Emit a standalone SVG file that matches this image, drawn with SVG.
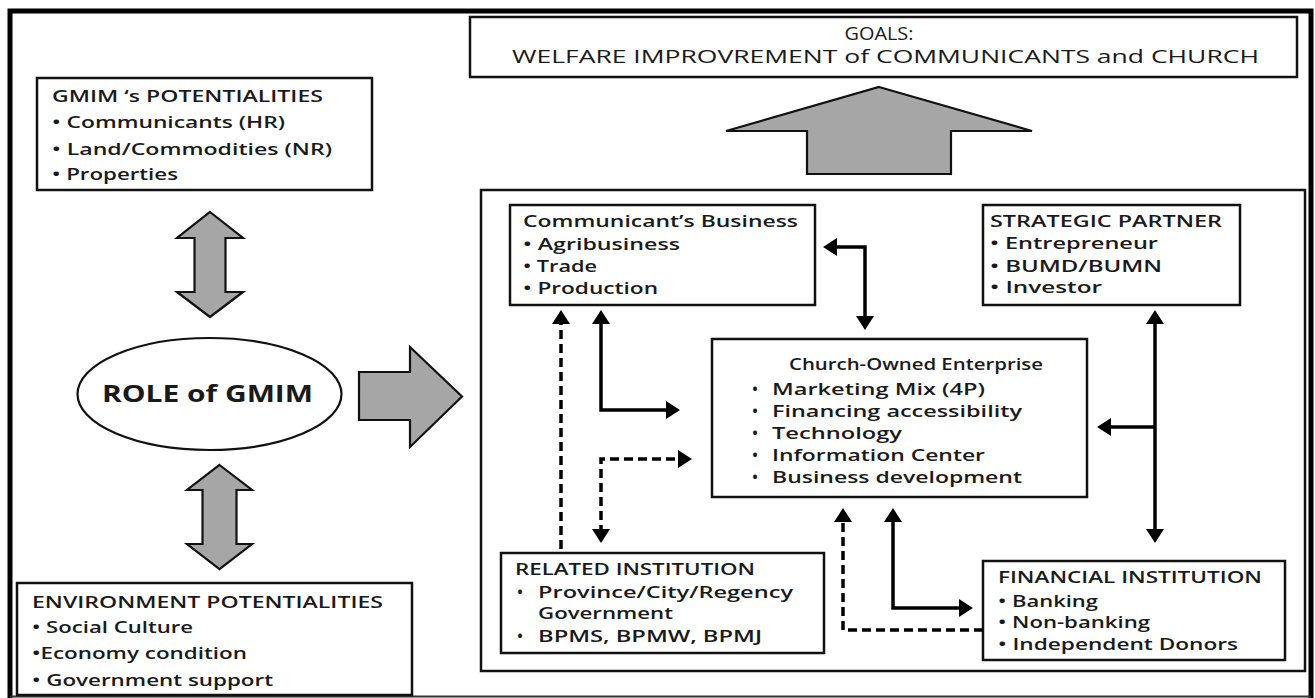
<svg xmlns="http://www.w3.org/2000/svg" width="1315" height="698" viewBox="0 0 1315 698">
<style>
.box{fill:#fff;stroke:#111;stroke-width:2.5}
.big{fill:#a6a6a6;stroke:#111;stroke-width:2.2;stroke-linejoin:miter}
.t{font-family:"Open Sans","Liberation Sans",sans-serif;fill:#1a1a1a;font-weight:600}
.l{font-size:17px}
.s{font-size:16px}
.g{font-size:17.5px;font-weight:500}
.r{font-size:23px;font-weight:700}
.c{fill:none;stroke:#000;stroke-width:3.5}
.d{stroke-dasharray:9 5}
</style>
<defs>
<marker id="ah" markerUnits="userSpaceOnUse" markerWidth="14" markerHeight="18" refX="11" refY="9" orient="auto-start-reverse" viewBox="0 0 14 18"><path d="M0,0 L14,9 L0,18 z" fill="#000"/></marker>
</defs>
<rect width="1315" height="698" fill="#fff"/>
<g id="frame">
<path d="M10,698 V11 H1311 V698" fill="none" stroke="#000" stroke-width="5"/>
<line x1="10" y1="696.5" x2="1311" y2="696.5" stroke="#333" stroke-width="2"/>
</g>
<g id="goals">
<rect class="box" x="470" y="17" width="827" height="60"/>
<text class="t g" x="844.5" y="40" textLength="69" lengthAdjust="spacingAndGlyphs">GOALS:</text>
<text class="t g" x="512" y="63" textLength="747" lengthAdjust="spacingAndGlyphs">WELFARE IMPROVREMENT of COMMUNICANTS and CHURCH</text>
</g>
<g id="up-arrow"><polygon class="big" points="879,87 1032,131 951,131 951,174 807,174 807,131 726,131"/></g>
<g id="gmim-potentialities">
<rect class="box" x="37" y="78" width="335" height="112"/>
<text class="t l" x="52" y="102" textLength="271" lengthAdjust="spacingAndGlyphs">GMIM ‘s POTENTIALITIES</text>
<text class="t l" x="52" y="128" textLength="233" lengthAdjust="spacingAndGlyphs">• Communicants (HR)</text>
<text class="t l" x="52" y="155" textLength="280" lengthAdjust="spacingAndGlyphs">• Land/Commodities (NR)</text>
<text class="t l" x="52" y="180" textLength="126" lengthAdjust="spacingAndGlyphs">• Properties</text>
</g>
<g id="top-double-arrow"><polygon class="big" points="210,212 243,238 225.5,238 225.5,292 243,292 210,317 177,292 194.5,292 194.5,238 177,238"/></g>
<g id="role">
<ellipse cx="209.5" cy="394" rx="132" ry="56" fill="#fff" stroke="#111" stroke-width="2.2"/>
<text class="t r" x="102" y="402" textLength="211" lengthAdjust="spacingAndGlyphs">ROLE of GMIM</text>
</g>
<g id="right-arrow"><polygon class="big" points="359,372 410,372 410,347 462,396.5 410,447 410,420 359,420"/></g>
<g id="bottom-double-arrow"><polygon class="big" points="219.5,465 252,490 236.5,490 236.5,544 252,544 219.5,569 187,544 202.5,544 202.5,490 187,490"/></g>
<g id="environment">
<rect class="box" x="17" y="583" width="395" height="112"/>
<text class="t l" x="32" y="608" textLength="351" lengthAdjust="spacingAndGlyphs">ENVIRONMENT POTENTIALITIES</text>
<text class="t l" x="32" y="633" textLength="161" lengthAdjust="spacingAndGlyphs">• Social Culture</text>
<text class="t l" x="32" y="659" textLength="215" lengthAdjust="spacingAndGlyphs">•Economy condition</text>
<text class="t l" x="32" y="686" textLength="241" lengthAdjust="spacingAndGlyphs">• Government support</text>
</g>
<g id="system"><rect class="box" x="481" y="190" width="824" height="481"/></g>
<g id="communicants-business">
<rect class="box" x="510" y="205" width="305" height="100"/>
<text class="t s" x="523" y="227" textLength="275" lengthAdjust="spacingAndGlyphs">Communicant’s Business</text>
<text class="t s" x="523" y="250" textLength="157" lengthAdjust="spacingAndGlyphs">• Agribusiness</text>
<text class="t s" x="523" y="272" textLength="74" lengthAdjust="spacingAndGlyphs">• Trade</text>
<text class="t s" x="523" y="294" textLength="135" lengthAdjust="spacingAndGlyphs">• Production</text>
</g>
<g id="strategic-partner">
<rect class="box" x="983" y="205" width="257" height="100"/>
<text class="t s" x="990" y="227" textLength="232" lengthAdjust="spacingAndGlyphs">STRATEGIC PARTNER</text>
<text class="t s" x="990" y="249" textLength="168" lengthAdjust="spacingAndGlyphs">• Entrepreneur</text>
<text class="t s" x="990" y="272" textLength="172" lengthAdjust="spacingAndGlyphs">• BUMD/BUMN</text>
<text class="t s" x="990" y="293" textLength="112" lengthAdjust="spacingAndGlyphs">• Investor</text>
</g>
<g id="church-owned-enterprise">
<rect class="box" x="712" y="339" width="375" height="158"/>
<text class="t s" x="789" y="370" textLength="254" lengthAdjust="spacingAndGlyphs">Church-Owned Enterprise</text>
<text class="t s" x="752" y="395">•</text>
<text class="t s" x="752" y="417">•</text>
<text class="t s" x="752" y="439">•</text>
<text class="t s" x="752" y="461">•</text>
<text class="t s" x="752" y="483">•</text>
<text class="t s" x="772" y="395" textLength="213" lengthAdjust="spacingAndGlyphs">Marketing Mix (4P)</text>
<text class="t s" x="772" y="417" textLength="250" lengthAdjust="spacingAndGlyphs">Financing accessibility</text>
<text class="t s" x="772" y="439" textLength="130" lengthAdjust="spacingAndGlyphs">Technology</text>
<text class="t s" x="772" y="461" textLength="213" lengthAdjust="spacingAndGlyphs">Information Center</text>
<text class="t s" x="772" y="483" textLength="250" lengthAdjust="spacingAndGlyphs">Business development</text>
</g>
<g id="related-institution">
<rect class="box" x="501" y="553" width="323" height="100"/>
<text class="t s" x="515" y="575" textLength="240" lengthAdjust="spacingAndGlyphs">RELATED INSTITUTION</text>
<text class="t s" x="517" y="598">•</text>
<text class="t s" x="517" y="642">•</text>
<text class="t s" x="538" y="598" textLength="255" lengthAdjust="spacingAndGlyphs">Province/City/Regency</text>
<text class="t s" x="538" y="619" textLength="135" lengthAdjust="spacingAndGlyphs">Government</text>
<text class="t s" x="538" y="642" textLength="224" lengthAdjust="spacingAndGlyphs">BPMS, BPMW, BPMJ</text>
</g>
<g id="financial-institution">
<rect class="box" x="983" y="561" width="302" height="99"/>
<text class="t s" x="998" y="583" textLength="264" lengthAdjust="spacingAndGlyphs">FINANCIAL INSTITUTION</text>
<text class="t s" x="998" y="607" textLength="100" lengthAdjust="spacingAndGlyphs">• Banking</text>
<text class="t s" x="998" y="628" textLength="152" lengthAdjust="spacingAndGlyphs">• Non-banking</text>
<text class="t s" x="998" y="650" textLength="240" lengthAdjust="spacingAndGlyphs">• Independent Donors</text>
</g>
<g id="connectors">
<path class="c" d="M826,247 H865 V327" marker-start="url(#ah)" marker-end="url(#ah)"/>
<path class="c" d="M601,313 V410 H677" marker-start="url(#ah)" marker-end="url(#ah)"/>
<path class="c d" d="M561,549 V313" marker-end="url(#ah)"/>
<path class="c d" d="M689,459 H601 V540" marker-start="url(#ah)" marker-end="url(#ah)"/>
<path class="c" d="M1155,313 V540" marker-start="url(#ah)" marker-end="url(#ah)"/>
<path class="c" d="M1155,427 H1100" marker-end="url(#ah)"/>
<path class="c" d="M893,511 V608 H970" marker-start="url(#ah)" marker-end="url(#ah)"/>
<path class="c d" d="M983,630 H843 V511" marker-end="url(#ah)"/>
</g>
</svg>
